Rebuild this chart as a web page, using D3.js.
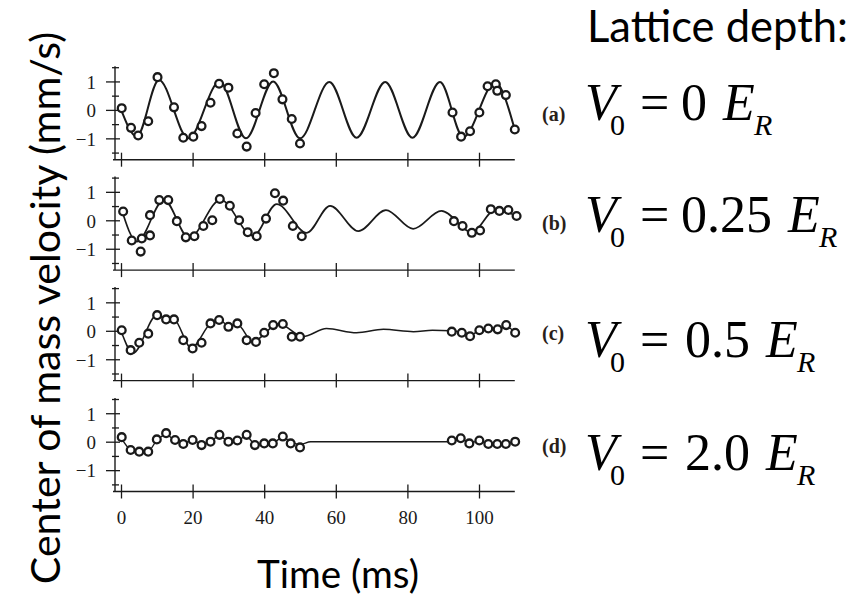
<!DOCTYPE html>
<html><head><meta charset="utf-8">
<script src="https://cdn.jsdelivr.net/npm/d3@7"></script>
<style>
body{margin:0;background:#fff}
#wrap{position:relative;width:863px;height:599px}
#c{position:absolute;left:0;top:0}
.m{position:absolute;white-space:nowrap;font-family:"Liberation Serif","Times New Roman",serif;line-height:1;color:#000}
</style>
</head><body><div id="wrap"><svg id="c" width="863" height="599"></svg></div>
<script>
// ---------- data ----------
const panelLabels = ["(a)", "(b)", "(c)", "(d)"];
const depthValues = ["0", "0.25", "0.5", "2.0"];
const xTicks = [0, 20, 40, 60, 80, 100];
const yTicks = [-1.5, -1, -0.5, 0, 0.5, 1, 1.5];
const yLabelTicks = [-1, 0, 1];

// (a) V0 = 0
const aT = [0.2, 2.8, 4.8, 7.6, 10.2, 14.8, 17.4, 20.2, 22.5, 25, 27.4, 30, 32.5, 35.1, 37.6, 40, 42.7, 45.1, 47.7, 50, 92.6, 95, 97.5, 100.1, 102.4, 104.7, 105.1, 107.5, 110];
const aV = [0.06, -0.63, -0.9, -0.4, 1.15, 0.09, -0.98, -0.94, -0.57, 0.25, 0.92, 0.78, -0.83, -1.29, -0.11, 0.9, 1.29, 0.37, -0.32, -1.18, -0.09, -0.94, -0.75, -0.09, 0.83, 0.9, 0.67, 0.52, -0.69];
const aCurveT = [0, 4.4, 10.6, 18.8, 27.6, 34.9, 42.5, 50, 58.2, 65.8, 73.8, 81.4, 89.1, 95.6, 104.5, 110];
const aCurveV = [0.02, -0.93, 1.05, -1.0, 1.0, -1.0, 1.0, -1.0, 0.98, -0.98, 0.98, -0.98, 0.98, -0.95, 0.95, -0.7];

// (b) V0 = 0.25
const bT = [0.6, 3.0, 5.8, 5.5, 8.1, 8.1, 10.7, 13.2, 15.6, 18.1, 20.5, 23, 25.5, 27.6, 30.4, 33, 35.4, 37.9, 40.5, 43, 45.3, 48, 50.5, 93, 95.4, 98, 100.3, 103.3, 105.7, 108.2, 110.5];
const bV = [0.31, -0.71, -0.64, -1.1, -0.53, 0.18, 0.71, 0.71, -0.03, -0.6, -0.56, -0.2, 0, 0.75, 0.51, 0, -0.42, -0.56, 0.06, 0.95, 0.69, -0.2, -0.56, -0.03, -0.2, -0.44, -0.36, 0.39, 0.33, 0.36, 0.15];
const bCurveT = [0, 4.5, 12, 19, 27.8, 36.9, 43.5, 51.9, 58.4, 66.3, 74, 81.6, 89.5, 98, 104.5, 110];
const bCurveV = [0.45, -0.75, 0.72, -0.62, 0.72, -0.55, 0.57, -0.44, 0.51, -0.38, 0.36, -0.3, 0.33, -0.42, 0.36, 0.18];

// (c) V0 = 0.5
const cT = [0.2, 2.7, 5.1, 7.6, 10.1, 12.6, 14.8, 17.4, 20, 22.5, 25, 27.4, 30, 32.5, 35.1, 37.7, 40, 42.5, 45.2, 47.7, 50, 92.4, 95.2, 97.5, 100.1, 102.6, 105.2, 107.6, 110.1];
const cV = [0.02, -0.68, -0.42, -0.1, 0.55, 0.4, 0.4, -0.33, -0.62, -0.42, 0.26, 0.38, 0.14, 0.26, -0.33, -0.39, -0.07, 0.2, 0.24, -0.21, -0.21, -0.03, -0.07, -0.19, 0.02, 0.08, 0.05, 0.2, -0.07];
const cCurveT = [0, 3.4, 10, 12.6, 14.8, 19.6, 25, 27.5, 30, 32.5, 36.8, 44, 50.9, 57.4, 65.8, 73.3, 81.7, 87, 92, 95, 97.5, 100, 102.5, 105, 107.6, 110];
const cCurveV = [0, -0.78, 0.55, 0.42, 0.4, -0.6, 0.25, 0.38, 0.18, 0.22, -0.38, 0.25, -0.2, 0.08, -0.07, 0.05, -0.03, 0.02, 0, -0.05, -0.15, 0, 0.05, 0.05, 0.15, -0.05];

// (d) V0 = 2.0
const dT = [0.2, 2.7, 5.1, 7.6, 10, 12.6, 15.1, 17.4, 20, 22.5, 25, 27.5, 30, 32.5, 35.1, 37.4, 40, 42.4, 45.2, 47.4, 50, 92.4, 94.9, 97.3, 100.1, 102.6, 105.1, 107.5, 110.1];
const dV = [0.16, -0.29, -0.35, -0.35, 0.08, 0.3, 0.06, -0.08, 0.06, -0.12, 0, 0.24, 0, 0.04, 0.24, -0.12, -0.06, -0.06, 0.18, -0.06, -0.2, 0.04, 0.12, -0.06, 0.04, -0.08, -0.08, -0.08, 0];
const dCurveT = [0, 3, 7.6, 10, 12.6, 15, 17.5, 20, 22.5, 25, 27.5, 30, 32.5, 35, 37.5, 40, 42.5, 45, 47.5, 50, 53, 92, 95, 97.5, 100, 102.5, 107.5, 110];
const dCurveV = [0.15, -0.3, -0.33, 0.05, 0.25, 0.05, -0.05, 0.05, -0.08, 0.02, 0.2, 0.02, 0.04, 0.2, -0.1, -0.05, -0.04, 0.15, 0, -0.1, 0, 0, 0.1, -0.04, 0.03, -0.06, -0.06, 0];

// ---------- setup ----------
const svg = d3.select("#c");
const wrap = d3.select("#wrap");
const ink = "#1a1a1a";
const SERIF = '"Liberation Serif","Times New Roman",serif';
const SANS = 'Lato,"Open Sans",sans-serif';

const ctx = document.createElement("canvas").getContext("2d");
function measure(s, fam, size) {
  ctx.font = `${size}px ${fam}`;
  return ctx.measureText(s).width;
}

// ---------- panels ----------
const panelTops = [67.2, 177.6, 288.1, 399];
const panelH = 92.5;
const x = d3.scaleLinear().domain([0, 110]).range([121, 514.8]);
const axisX = 115;

const panels = [
  {pts: d3.zip(aT, aV), curve: d3.zip(aCurveT, aCurveV), sw: 2},
  {pts: d3.zip(bT, bV), curve: d3.zip(bCurveT, bCurveV), sw: 1.7},
  {pts: d3.zip(cT, cV), curve: d3.zip(cCurveT, cCurveV), sw: 1.5},
  {pts: d3.zip(dT, dV), curve: d3.zip(dCurveT, dCurveV), sw: 1.4}
];

panels.forEach((p, i) => {
  const top = panelTops[i];
  const y = d3.scaleLinear().domain([-1.75, 1.5]).range([top + panelH, top]);
  const g = svg.append("g");
  const yBottom = y(-1.75);

  const ya = d3.axisLeft(y).tickValues(yTicks).tickSize(0)
    .tickFormat(d => yLabelTicks.includes(d) ? d3.format("d")(d) : "");
  const yg = g.append("g").attr("transform", `translate(${axisX},0)`).call(ya);
  yg.attr("font-family", null).attr("font-size", null);
  yg.select(".domain").remove();
  yg.selectAll(".tick line")
    .attr("x1", d => yLabelTicks.includes(d) ? -9 : -3)
    .attr("x2", d => yLabelTicks.includes(d) ? 5 : 4)
    .attr("stroke", ink).attr("stroke-width", 1.3);
  yg.selectAll(".tick text")
    .attr("x", -19).attr("dy", "0.36em")
    .style("font-family", SERIF).style("font-size", "19px").attr("fill", ink);
  g.append("line").attr("x1", axisX).attr("x2", axisX)
    .attr("y1", y(1.5) - 1).attr("y2", yBottom)
    .attr("stroke", ink).attr("stroke-width", 1.4);

  const xa = d3.axisBottom(x).tickValues(xTicks).tickSize(0)
    .tickFormat(i === 3 ? d3.format("d") : () => "");
  const xg = g.append("g").attr("transform", `translate(0,${yBottom})`).call(xa);
  xg.attr("font-family", null).attr("font-size", null);
  xg.select(".domain").remove();
  xg.selectAll(".tick line").attr("y1", -7).attr("y2", 7)
    .attr("stroke", ink).attr("stroke-width", 1.3);
  xg.selectAll(".tick text").attr("y", 26).attr("dy", "0.32em")
    .style("font-family", SERIF).style("font-size", "19px").attr("fill", ink);
  g.append("line").attr("x1", axisX - 2).attr("x2", x(110))
    .attr("y1", yBottom).attr("y2", yBottom)
    .attr("stroke", ink).attr("stroke-width", 1.4);

  const line = d3.line().x(d => x(d[0])).y(d => y(d[1])).curve(d3.curveMonotoneX);
  g.append("path").datum(p.curve).attr("d", line)
    .attr("fill", "none").attr("stroke", ink).attr("stroke-width", p.sw);

  g.selectAll("circle").data(p.pts).join("circle")
    .attr("cx", d => x(d[0])).attr("cy", d => y(d[1])).attr("r", 3.9)
    .attr("fill", "#fff").attr("stroke", ink).attr("stroke-width", 2.3);
});

// ---------- sans labels, sized to the reference widths ----------
function fitSize(s, target) { return 40 * target / measure(s, SANS, 40); }
function sansTxt(xp, yp, s, size, extra = {}) {
  const t = svg.append("text").attr("x", xp).attr("y", yp)
    .style("font-family", SANS).style("font-size", size + "px").style("fill", "#000").text(s);
  if (extra.anchor) t.attr("text-anchor", extra.anchor);
  if (extra.transform) t.attr("transform", extra.transform);
  return t;
}
sansTxt(587, 42, "Lattice depth:", fitSize("Lattice depth:", 261));
sansTxt(257, 588, "Time (ms)", fitSize("Time (ms)", 162));
sansTxt(0, 0, "Center of mass velocity (mm/s)", fitSize("Center of mass velocity (mm/s)", 556),
  {anchor: "middle", transform: "translate(60,308) rotate(-90)"});

// ---------- math labels as HTML text placed over the chart ----------
// with line-height 1, baseline sits about 0.891em below the box top for Liberation Serif
function mathSpan(xp, baseline, s, size, italic, bold, color) {
  wrap.append("div").attr("class", "m")
    .style("left", xp + "px").style("top", (baseline - 0.891 * size) + "px")
    .style("font-size", size + "px")
    .style("font-style", italic ? "italic" : "normal")
    .style("font-weight", bold ? "bold" : "normal")
    .style("color", color || "#000")
    .text(s);
}
const rowBase = [123, 235, 360, 473];
const tagBase = [122, 231, 341, 454];
const numX = [681, 681, 685, 685];
panelLabels.forEach((lab, i) => {
  const b = rowBase[i];
  mathSpan(542, tagBase[i], lab, 20, false, true, "#2a1f1a");
  mathSpan(585, b, "V", 52, true);
  mathSpan(610, b + 14, "0", 30, false);
  mathSpan(640, b, "=", 52, false);
  mathSpan(numX[i], b, depthValues[i], 52, false);
  const ex = numX[i] + measure(depthValues[i], SERIF, 52) + 16;
  mathSpan(ex, b, "E", 52, true);
  mathSpan(ex + 31, b + 14, "R", 30, true);
});
</script>
</body></html>
